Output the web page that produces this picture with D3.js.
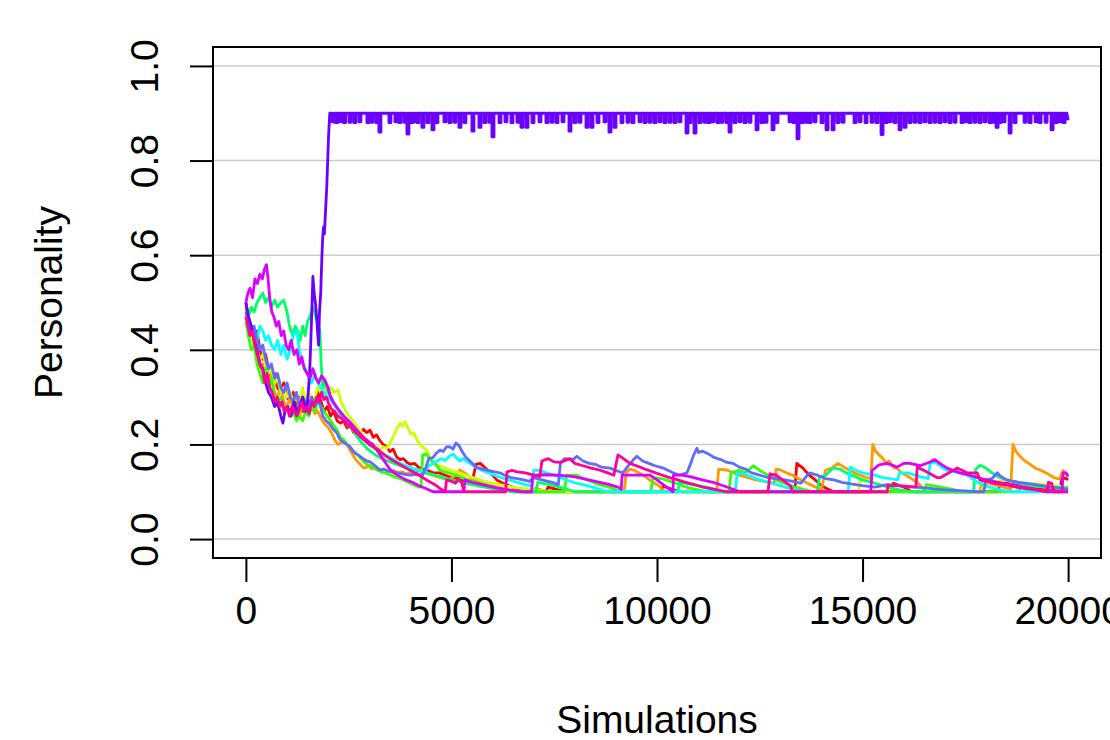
<!DOCTYPE html>
<html><head><meta charset="utf-8">
<script src="https://cdn.jsdelivr.net/npm/d3@7"></script>
<style>body{margin:0;background:#fff}svg{display:block}text{font-family:"Liberation Sans",Arial,Helvetica,sans-serif;fill:#000}</style>
</head><body><svg id="chart" width="1110" height="740"></svg>
<script>
const xTicks = [0, 5000, 10000, 15000, 20000];
const xTickLabels = ["0", "5000", "10000", "15000", "20000"];
const yTicks = [0, 0.2, 0.4, 0.6, 0.8, 1.0];
const yTickLabels = ["0.0", "0.2", "0.4", "0.6", "0.8", "1.0"];
const xTitle = "Simulations";
const yTitle = "Personality";
const seriesNames = ["red","orange","yellowgreen","green","springgreen","cyan","blue","purple","magenta","pink"];
const seriesColors = ["#FF0000","#FF9900","#CCFF00","#33FF00","#00FF66","#00FFFF","#5E6CFF","#6A00FF","#DD00FF","#FF0099"];

const red = [[0,0.50],[60,0.47],[130,0.45],[200,0.43],[270,0.44],[340,0.40],[410,0.38],[480,0.39],[550,0.36],[620,0.34],[700,0.35],[770,0.32],[850,0.31],[920,0.33],[1000,0.30],[1080,0.29],[1150,0.31],[1230,0.28],[1300,0.30],[1380,0.27],[1450,0.29],[1530,0.28],[1600,0.30],[1680,0.27],[1750,0.31],[1830,0.29],[1900,0.27],[1980,0.28],[2060,0.26],[2140,0.27],[2220,0.25],[2300,0.245],[2380,0.25],[2460,0.235],[2540,0.24],[2620,0.225],[2700,0.23],[2780,0.22],[2860,0.232],[2940,0.225],[3020,0.23],[3100,0.215],[3180,0.22],[3260,0.208],[3340,0.2],[3420,0.195],[3500,0.185],[3580,0.19],[3670,0.173],[3750,0.168],[3830,0.17],[3920,0.162],[4000,0.158],[4100,0.16],[4200,0.152],[4300,0.148],[4400,0.146],[4550,0.14],[4700,0.14],[4850,0.135],[5000,0.13],[5150,0.128],[5300,0.122],[5450,0.118],[5500,0.12],[5600,0.158],[5700,0.16],[5850,0.148],[6000,0.135],[6100,0.125],[6250,0.118],[6420,0.112],[6600,0.106],[6800,0.1],[7300,0.1],[7350,0.11],[7600,0.104],[7800,0.1],[10100,0.1],[10150,0.112],[10400,0.104],[10600,0.1],[13350,0.1],[13400,0.16],[13550,0.15],[13700,0.135],[13850,0.125],[13970,0.115],[14100,0.108],[14300,0.1],[15700,0.1],[15750,0.118],[16000,0.11],[16200,0.1],[18300,0.1],[18350,0.12],[18700,0.115],[19000,0.11],[19300,0.108],[19600,0.105],[19800,0.1],[19850,0.13],[19950,0.128],[20000,0.125]];

const orange = [[0,0.49],[60,0.45],[130,0.44],[200,0.41],[270,0.38],[340,0.36],[410,0.37],[480,0.34],[550,0.33],[620,0.35],[700,0.31],[770,0.30],[850,0.32],[920,0.29],[1000,0.28],[1080,0.30],[1150,0.27],[1230,0.28],[1300,0.26],[1380,0.28],[1450,0.29],[1530,0.27],[1600,0.28],[1680,0.265],[1750,0.27],[1830,0.255],[1900,0.245],[1995,0.237],[2080,0.225],[2160,0.21],[2240,0.2],[2330,0.205],[2430,0.205],[2520,0.19],[2600,0.178],[2680,0.167],[2760,0.16],[2840,0.152],[2900,0.15],[2980,0.155],[3060,0.148],[3140,0.152],[3220,0.145],[3300,0.148],[3400,0.146],[3500,0.143],[3600,0.145],[3700,0.14],[3800,0.142],[3900,0.138],[4000,0.14],[4100,0.138],[4230,0.146],[4350,0.14],[4500,0.136],[4650,0.132],[4800,0.128],[4950,0.125],[5100,0.135],[5200,0.146],[5350,0.138],[5520,0.125],[5700,0.12],[5900,0.115],[6100,0.11],[6300,0.105],[6500,0.1],[7000,0.1],[7050,0.108],[7250,0.102],[7400,0.1],[9200,0.1],[9250,0.14],[9340,0.148],[9450,0.145],[9600,0.138],[9750,0.13],[9900,0.12],[10050,0.112],[10200,0.1],[11450,0.1],[11500,0.148],[11700,0.146],[12000,0.135],[12400,0.125],[12850,0.118],[12900,0.148],[13000,0.146],[13150,0.14],[13300,0.135],[13500,0.125],[13800,0.112],[14000,0.105],[14100,0.146],[14250,0.15],[14400,0.16],[14550,0.152],[14700,0.145],[14800,0.14],[14940,0.135],[15100,0.13],[15200,0.128],[15250,0.2],[15320,0.185],[15400,0.178],[15500,0.17],[15570,0.16],[15650,0.165],[15750,0.152],[15850,0.148],[15950,0.14],[16150,0.13],[16350,0.118],[16550,0.1],[17850,0.1],[17900,0.12],[18200,0.115],[18500,0.108],[18600,0.105],[18660,0.2],[18730,0.185],[18830,0.175],[18950,0.165],[19080,0.158],[19200,0.15],[19320,0.146],[19500,0.138],[19650,0.13],[19780,0.127],[19880,0.145],[19950,0.138],[20000,0.133]];

const yellowgreen = [[0,0.47],[60,0.45],[130,0.42],[200,0.43],[270,0.40],[340,0.38],[410,0.39],[480,0.37],[550,0.35],[620,0.36],[700,0.33],[770,0.34],[850,0.31],[920,0.32],[1000,0.30],[1080,0.31],[1150,0.29],[1230,0.30],[1300,0.28],[1380,0.32],[1450,0.29],[1530,0.31],[1600,0.29],[1680,0.30],[1750,0.32],[1830,0.31],[1900,0.33],[1980,0.31],[2060,0.32],[2140,0.31],[2240,0.315],[2320,0.29],[2400,0.275],[2480,0.262],[2560,0.255],[2640,0.245],[2720,0.235],[2800,0.228],[2880,0.215],[2960,0.208],[3040,0.2],[3120,0.192],[3200,0.195],[3260,0.188],[3340,0.195],[3430,0.192],[3520,0.205],[3600,0.22],[3680,0.235],[3750,0.245],[3810,0.238],[3870,0.248],[3940,0.235],[4010,0.222],[4080,0.225],[4160,0.21],[4230,0.2],[4300,0.195],[4400,0.188],[4480,0.17],[4560,0.16],[4700,0.155],[4850,0.15],[5000,0.145],[5200,0.14],[5400,0.133],[5600,0.128],[5800,0.122],[6000,0.118],[6300,0.113],[6600,0.108],[7000,0.104],[7400,0.1],[14900,0.1],[14950,0.125],[15100,0.125],[15300,0.118],[15600,0.11],[15900,0.1],[17900,0.1],[17950,0.118],[18300,0.122],[18520,0.125],[18800,0.12],[19200,0.117],[19640,0.113],[20000,0.11]];

const green = [[0,0.46],[60,0.43],[130,0.40],[200,0.41],[270,0.37],[340,0.35],[410,0.33],[480,0.36],[550,0.32],[620,0.34],[700,0.30],[770,0.28],[850,0.30],[920,0.27],[1000,0.28],[1080,0.26],[1150,0.27],[1230,0.25],[1300,0.26],[1380,0.25],[1450,0.27],[1530,0.26],[1600,0.28],[1680,0.27],[1750,0.29],[1830,0.28],[1900,0.27],[1980,0.26],[2060,0.25],[2140,0.24],[2220,0.23],[2300,0.215],[2380,0.21],[2460,0.2],[2540,0.195],[2620,0.185],[2700,0.18],[2780,0.172],[2860,0.165],[2940,0.158],[3020,0.155],[3150,0.148],[3300,0.142],[3450,0.138],[3600,0.132],[3750,0.128],[3900,0.122],[4050,0.116],[4200,0.11],[4260,0.11],[4300,0.178],[4380,0.18],[4470,0.17],[4560,0.162],[4650,0.155],[4720,0.145],[4850,0.142],[5000,0.138],[5200,0.132],[5400,0.125],[5600,0.12],[5800,0.115],[6000,0.11],[6250,0.105],[6500,0.1],[7750,0.1],[7800,0.135],[8050,0.135],[8300,0.125],[8600,0.115],[8900,0.108],[9100,0.1],[9850,0.1],[9900,0.13],[10100,0.128],[10400,0.12],[10700,0.11],[11000,0.104],[11200,0.1],[11750,0.1],[11800,0.14],[12000,0.145],[12150,0.14],[12340,0.155],[12500,0.145],[12700,0.135],[12900,0.125],[13100,0.118],[13350,0.11],[13600,0.104],[13800,0.1],[16500,0.1],[16550,0.115],[16900,0.11],[17200,0.105],[17400,0.1],[18800,0.1],[18850,0.115],[19200,0.112],[19600,0.108],[20000,0.105]];

const springgreen = [[0,0.48],[60,0.47],[130,0.49],[200,0.48],[270,0.50],[340,0.51],[410,0.52],[480,0.50],[550,0.51],[620,0.49],[700,0.505],[770,0.49],[850,0.50],[920,0.505],[1000,0.48],[1060,0.45],[1140,0.43],[1200,0.45],[1260,0.44],[1320,0.42],[1380,0.45],[1440,0.43],[1500,0.46],[1560,0.47],[1630,0.49],[1700,0.47],[1760,0.45],[1800,0.44],[1830,0.37],[1870,0.32],[1920,0.335],[2000,0.31],[2080,0.30],[2160,0.285],[2240,0.275],[2320,0.26],[2400,0.255],[2480,0.24],[2560,0.235],[2640,0.225],[2720,0.215],[2800,0.205],[2880,0.198],[2960,0.19],[3040,0.185],[3150,0.178],[3300,0.17],[3450,0.165],[3600,0.16],[3750,0.155],[3900,0.15],[4050,0.148],[4200,0.145],[4400,0.14],[4600,0.135],[4800,0.13],[5000,0.125],[5250,0.12],[5500,0.115],[5800,0.11],[6100,0.105],[6500,0.1],[7050,0.1],[7100,0.12],[7400,0.115],[7700,0.108],[8000,0.1],[10500,0.1],[10550,0.12],[10900,0.115],[11300,0.108],[11600,0.1],[13900,0.1],[13950,0.13],[14100,0.135],[14280,0.15],[14450,0.148],[14600,0.14],[14800,0.133],[15000,0.125],[15300,0.118],[15600,0.11],[15900,0.104],[16200,0.1],[17700,0.1],[17750,0.148],[17860,0.156],[18000,0.15],[18150,0.14],[18300,0.132],[18500,0.125],[18800,0.118],[19100,0.113],[19500,0.11],[20000,0.108]];

const cyan = [[0,0.47],[60,0.45],[130,0.43],[200,0.44],[270,0.42],[340,0.45],[410,0.44],[480,0.42],[550,0.43],[620,0.41],[700,0.40],[770,0.42],[850,0.39],[920,0.41],[1000,0.38],[1080,0.40],[1150,0.43],[1240,0.44],[1300,0.40],[1380,0.37],[1450,0.36],[1530,0.34],[1600,0.33],[1680,0.35],[1750,0.33],[1830,0.32],[1900,0.31],[1980,0.30],[2060,0.295],[2140,0.285],[2220,0.275],[2300,0.27],[2380,0.26],[2460,0.25],[2540,0.245],[2620,0.235],[2700,0.228],[2780,0.22],[2860,0.21],[2940,0.205],[3020,0.198],[3150,0.19],[3300,0.182],[3450,0.175],[3600,0.168],[3750,0.16],[3900,0.155],[4050,0.15],[4200,0.146],[4350,0.142],[4450,0.155],[4550,0.16],[4650,0.165],[4750,0.17],[4850,0.166],[4950,0.175],[5040,0.18],[5120,0.172],[5200,0.165],[5280,0.17],[5350,0.166],[5450,0.16],[5600,0.152],[5750,0.145],[5900,0.14],[6050,0.135],[6200,0.13],[6400,0.125],[6600,0.12],[6800,0.115],[6950,0.112],[7000,0.145],[7150,0.145],[7300,0.14],[7500,0.135],[7700,0.128],[7960,0.12],[8200,0.115],[8500,0.108],[8800,0.1],[11900,0.1],[11950,0.14],[12100,0.138],[12300,0.132],[12500,0.125],[12800,0.118],[13100,0.11],[13400,0.104],[13600,0.1],[14650,0.1],[14700,0.152],[14850,0.145],[15000,0.14],[15300,0.135],[15500,0.13],[15850,0.125],[15900,0.14],[16100,0.14],[16400,0.132],[16600,0.128],[16640,0.16],[16760,0.163],[16880,0.155],[17060,0.145],[17350,0.14],[17550,0.135],[17800,0.12],[18000,0.112],[18300,0.105],[18600,0.1],[20000,0.1]];

const blue = [[0,0.48],[60,0.46],[130,0.44],[200,0.45],[270,0.42],[340,0.40],[410,0.41],[480,0.38],[550,0.36],[620,0.37],[700,0.34],[770,0.35],[850,0.32],[920,0.31],[1000,0.33],[1080,0.30],[1150,0.29],[1230,0.31],[1300,0.28],[1380,0.30],[1450,0.29],[1530,0.28],[1600,0.30],[1680,0.285],[1750,0.29],[1800,0.287],[1870,0.26],[1950,0.25],[2040,0.243],[2120,0.232],[2210,0.225],[2290,0.21],[2370,0.205],[2450,0.2],[2530,0.195],[2600,0.186],[2680,0.18],[2760,0.176],[2850,0.17],[2940,0.165],[3020,0.163],[3100,0.158],[3180,0.152],[3260,0.146],[3350,0.148],[3450,0.144],[3550,0.142],[3700,0.14],[3850,0.137],[4000,0.135],[4150,0.137],[4300,0.135],[4380,0.152],[4450,0.17],[4550,0.172],[4640,0.182],[4720,0.188],[4800,0.185],[4880,0.195],[4960,0.195],[5040,0.19],[5110,0.203],[5180,0.198],[5260,0.185],[5350,0.173],[5450,0.165],[5600,0.152],[5750,0.148],[5900,0.145],[6050,0.142],[6180,0.14],[6300,0.135],[6450,0.13],[6600,0.128],[6750,0.125],[6900,0.122],[7000,0.13],[7100,0.127],[7200,0.125],[7450,0.12],[7600,0.115],[7650,0.16],[7750,0.17],[7960,0.168],[8050,0.175],[8200,0.165],[8350,0.16],[8500,0.158],[8650,0.152],[8860,0.15],[9000,0.145],[9170,0.14],[9300,0.155],[9420,0.167],[9510,0.175],[9650,0.165],[9800,0.16],[9950,0.155],[10150,0.15],[10390,0.14],[10550,0.135],[10730,0.14],[10820,0.16],[10880,0.175],[10970,0.192],[11010,0.183],[11100,0.186],[11250,0.18],[11400,0.172],[11550,0.168],[11700,0.162],[11850,0.16],[12000,0.152],[12150,0.148],[12300,0.14],[12500,0.135],[12700,0.13],[12900,0.128],[13100,0.125],[13300,0.122],[13500,0.118],[13700,0.14],[13900,0.135],[14100,0.128],[14300,0.125],[14500,0.12],[14750,0.116],[15000,0.113],[15300,0.11],[15600,0.115],[16000,0.112],[16500,0.108],[17000,0.104],[17500,0.102],[17800,0.1],[17950,0.1],[18000,0.125],[18150,0.128],[18280,0.14],[18350,0.133],[18500,0.125],[18800,0.12],[19200,0.115],[19600,0.11],[20000,0.105]];

const purple = [[0,0.50],[60,0.47],[130,0.45],[200,0.42],[270,0.40],[340,0.37],[410,0.36],[480,0.33],[550,0.31],[620,0.30],[700,0.28],[770,0.29],[850,0.26],[900,0.245],[950,0.27],[1020,0.28],[1100,0.26],[1170,0.29],[1240,0.27],[1310,0.28],[1380,0.30],[1450,0.27],[1500,0.29],[1550,0.35],[1580,0.42],[1610,0.50],[1630,0.555],[1660,0.52],[1690,0.50],[1720,0.47],[1750,0.43],[1770,0.41],[1790,0.48],[1820,0.52],[1850,0.60],[1870,0.64],[1890,0.66],[1910,0.645],[1930,0.68],[1970,0.75],[2010,0.85],[2040,0.9]];
const purplePlateau = 0.9;
const purpleDips = [[2117,0.882],[2200,0.88],[2287,0.882],[2400,0.88],[2530,0.881],[2650,0.88],[2774,0.882],[2968,0.88],[3066,0.881],[3187,0.88],[3260,0.86],[3504,0.88],[3650,0.882],[3747,0.88],[3869,0.881],[3941,0.856],[4039,0.88],[4110,0.882],[4185,0.88],[4306,0.87],[4428,0.88],[4550,0.865],[4647,0.88],[4842,0.882],[4963,0.88],[5085,0.881],[5207,0.87],[5328,0.88],[5523,0.862],[5693,0.87],[5815,0.88],[5937,0.881],[6010,0.85],[6180,0.88],[6326,0.882],[6472,0.88],[6618,0.881],[6715,0.87],[6837,0.87],[6983,0.88],[7153,0.882],[7323,0.88],[7445,0.881],[7567,0.88],[7713,0.882],[7883,0.862],[8005,0.88],[8126,0.881],[8297,0.87],[8418,0.87],[8564,0.88],[8735,0.882],[8856,0.86],[8978,0.87],[9148,0.88],[9294,0.881],[9416,0.88],[9586,0.882],[9708,0.88],[9829,0.881],[9951,0.88],[10073,0.882],[10194,0.88],[10316,0.881],[10438,0.88],[10559,0.882],[10730,0.858],[10802,0.88],[10924,0.858],[11046,0.88],[11167,0.881],[11265,0.88],[11362,0.882],[11484,0.88],[11581,0.881],[11703,0.88],[11776,0.86],[11897,0.88],[12019,0.882],[12141,0.88],[12262,0.881],[12433,0.865],[12554,0.88],[12652,0.881],[12822,0.865],[12919,0.88],[13236,0.882],[13333,0.88],[13430,0.846],[13527,0.88],[13625,0.881],[13722,0.88],[13844,0.882],[14014,0.88],[14136,0.865],[14282,0.865],[14404,0.88],[14525,0.881],[14817,0.88],[14939,0.882],[15085,0.88],[15231,0.881],[15352,0.88],[15474,0.855],[15571,0.88],[15669,0.882],[15790,0.88],[15912,0.865],[16034,0.87],[16155,0.88],[16277,0.881],[16398,0.88],[16520,0.882],[16642,0.88],[16764,0.881],[16885,0.88],[17007,0.882],[17128,0.88],[17250,0.881],[17420,0.88],[17518,0.882],[17615,0.88],[17737,0.881],[17858,0.88],[17980,0.882],[18102,0.88],[18175,0.881],[18272,0.87],[18345,0.88],[18442,0.882],[18588,0.858],[18710,0.88],[18953,0.881],[19075,0.88],[19221,0.882],[19318,0.88],[19464,0.881],[19610,0.865],[19707,0.88],[19805,0.882],[19902,0.88]];
const purpleEnd = [20000, 0.885];

const magenta = [[0,0.50],[50,0.52],[100,0.53],[160,0.51],[220,0.55],[280,0.54],[340,0.56],[400,0.55],[450,0.57],[500,0.58],[540,0.55],[580,0.51],[630,0.48],[680,0.47],[740,0.45],[800,0.46],[860,0.43],[920,0.44],[980,0.41],[1040,0.40],[1100,0.42],[1170,0.39],[1240,0.40],[1300,0.37],[1360,0.385],[1420,0.36],[1490,0.35],[1560,0.34],[1630,0.36],[1700,0.34],[1770,0.33],[1840,0.345],[1920,0.336],[2000,0.32],[2060,0.30],[2120,0.29],[2200,0.28],[2300,0.268],[2400,0.258],[2500,0.25],[2600,0.24],[2700,0.23],[2800,0.22],[2900,0.212],[3000,0.205],[3090,0.2],[3170,0.19],[3250,0.18],[3330,0.17],[3420,0.158],[3500,0.148],[3600,0.14],[3750,0.132],[3900,0.125],[4050,0.12],[4200,0.113],[4350,0.108],[4550,0.1],[5300,0.1],[5330,0.125],[5500,0.12],[5700,0.116],[5900,0.112],[6100,0.108],[6400,0.104],[6700,0.1],[6950,0.1],[6980,0.135],[7300,0.136],[7600,0.135],[7960,0.132],[8200,0.128],[8500,0.122],[8800,0.116],[9050,0.11],[9130,0.105],[9150,0.135],[9500,0.135],[9830,0.135],[10000,0.125],[10200,0.112],[10390,0.1],[10400,0.135],[10600,0.135],[10800,0.132],[11100,0.125],[11360,0.12],[11700,0.11],[12020,0.1],[15200,0.1],[15230,0.145],[15400,0.157],[15600,0.16],[15840,0.152],[16000,0.16],[16150,0.16],[16400,0.155],[16640,0.163],[16760,0.168],[16880,0.16],[17060,0.15],[17200,0.145],[17370,0.14],[17600,0.135],[17800,0.13],[18000,0.125],[18300,0.12],[18600,0.115],[18900,0.11],[19200,0.105],[19500,0.1],[19850,0.1],[19880,0.14],[19950,0.14],[20000,0.132]];

const pink = [[0,0.47],[50,0.45],[100,0.43],[160,0.44],[220,0.41],[280,0.39],[340,0.37],[400,0.36],[460,0.33],[520,0.35],[580,0.32],[640,0.31],[700,0.29],[760,0.30],[820,0.28],[880,0.29],[940,0.27],[1000,0.28],[1060,0.26],[1120,0.28],[1180,0.27],[1240,0.26],[1300,0.275],[1360,0.29],[1420,0.27],[1480,0.28],[1540,0.265],[1600,0.29],[1660,0.28],[1720,0.30],[1780,0.29],[1840,0.31],[1900,0.295],[1960,0.30],[2020,0.285],[2080,0.275],[2160,0.27],[2240,0.26],[2320,0.255],[2400,0.25],[2480,0.242],[2560,0.236],[2640,0.228],[2720,0.222],[2800,0.215],[2900,0.208],[3000,0.2],[3100,0.195],[3200,0.19],[3300,0.183],[3400,0.176],[3500,0.17],[3600,0.165],[3700,0.16],[3800,0.155],[3900,0.15],[4000,0.145],[4150,0.138],[4300,0.13],[4450,0.122],[4600,0.115],[4720,0.107],[4850,0.1],[4880,0.125],[5000,0.122],[5100,0.118],[5160,0.128],[5250,0.12],[5300,0.1],[6320,0.1],[6350,0.142],[6470,0.145],[6600,0.142],[6800,0.14],[7000,0.135],[7150,0.132],[7200,0.165],[7350,0.17],[7500,0.163],[7650,0.162],[7880,0.17],[8000,0.16],[8200,0.155],[8400,0.15],[8600,0.146],[8800,0.14],[8950,0.135],[9050,0.178],[9150,0.172],[9340,0.16],[9500,0.155],[9700,0.148],[9900,0.142],[10100,0.136],[10300,0.13],[10500,0.125],[10700,0.12],[10900,0.115],[11100,0.11],[11400,0.105],[11700,0.1],[12700,0.1],[12750,0.138],[12900,0.135],[13100,0.122],[13250,0.112],[13300,0.1],[15600,0.1],[15620,0.114],[16000,0.112],[16300,0.11],[16330,0.152],[16500,0.145],[16810,0.13],[16900,0.13],[17060,0.138],[17300,0.15],[17540,0.14],[17790,0.14],[17850,0.125],[18200,0.118],[18520,0.114],[18830,0.108],[19200,0.104],[19490,0.1],[19520,0.12],[19600,0.118],[19650,0.1],[20000,0.1]];

// build purple full path from its early points, plateau dips and end
const purpleFull = purple.slice();
purpleDips.forEach(d => {
  purpleFull.push([d[0] - 25, purplePlateau], [d[0] - 25, d[1]], [d[0] + 25, d[1]], [d[0] + 25, purplePlateau]);
});
purpleFull.push([purpleEnd[0] - 30, purplePlateau], purpleEnd);

const allSeries = [red, orange, yellowgreen, green, springgreen, cyan, blue, purpleFull, magenta, pink];

const svg = d3.select("#chart");
const L = 213, R = 1101, T = 47, B = 558;
const x = d3.scaleLinear().domain([-800, 20800]).range([L, R]);
const y = d3.scaleLinear().domain([-0.04, 1.04]).range([B, T]);

svg.append("defs").append("clipPath").attr("id", "clip")
  .append("rect").attr("x", L).attr("y", T).attr("width", R - L).attr("height", B - T);

// grid
svg.append("g").selectAll("line").data(yTicks).join("line")
  .attr("x1", L).attr("x2", R).attr("y1", d => y(d)).attr("y2", d => y(d))
  .attr("stroke", "#CCCCCC").attr("stroke-width", 1.6);

// lines
const line = d3.line().x(d => x(d[0])).y(d => y(d[1]));
svg.append("g").attr("clip-path", "url(#clip)").selectAll("path").data(allSeries).join("path")
  .attr("d", line).attr("fill", "none")
  .attr("stroke", (d, i) => seriesColors[i]).attr("stroke-width", 2.8)
  .attr("stroke-linejoin", "round").attr("stroke-linecap", "butt");

// box
svg.append("rect").attr("x", L).attr("y", T).attr("width", R - L).attr("height", B - T)
  .attr("fill", "none").attr("stroke", "#000").attr("stroke-width", 2);

// x axis
const xAxis = d3.axisBottom(x).tickValues(xTicks).tickFormat((d, i) => xTickLabels[i]).tickSize(24).tickPadding(14);
const gx = svg.append("g").attr("transform", `translate(0,${B})`).call(xAxis);
gx.select(".domain").remove();
gx.selectAll(".tick line").attr("stroke", "#000").attr("stroke-width", 2);
gx.selectAll(".tick text").attr("font-size", 39).attr("font-family", '"Liberation Sans", Arial, sans-serif').attr("fill", "#000");

// y axis
const yAxis = d3.axisLeft(y).tickValues(yTicks).tickFormat((d, i) => yTickLabels[i]).tickSize(23);
const gy = svg.append("g").attr("transform", `translate(${L},0)`).call(yAxis);
gy.select(".domain").remove();
gy.selectAll(".tick line").attr("stroke", "#000").attr("stroke-width", 2);
gy.selectAll(".tick text").remove();
gy.selectAll(".tick").append("text")
  .attr("transform", `translate(${158 - L},0) rotate(-90)`)
  .attr("text-anchor", "middle").attr("font-size", 39)
  .text((d, i) => yTickLabels[i]);

// titles
svg.append("text").attr("x", (L + R) / 2).attr("y", 733).attr("text-anchor", "middle")
  .attr("font-size", 39).text(xTitle);
svg.append("text").attr("transform", `translate(62,${(T + B) / 2}) rotate(-90)`)
  .attr("text-anchor", "middle").attr("font-size", 39).text(yTitle);
</script></body></html>
